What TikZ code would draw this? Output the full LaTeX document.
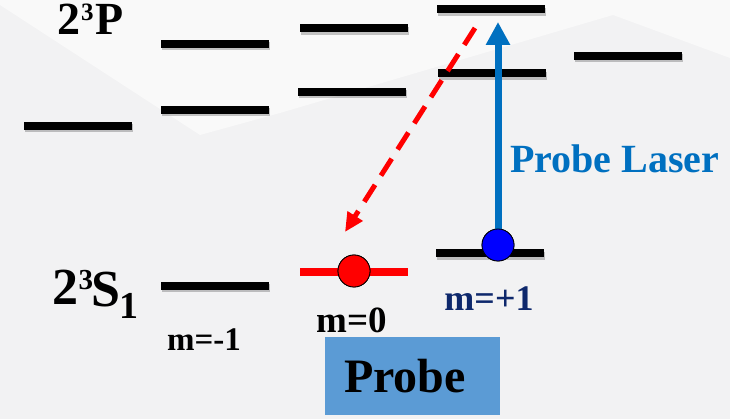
\documentclass[tikz,border=0pt]{standalone}
\usepackage{fontspec}
\setmainfont{Liberation Serif}
\usetikzlibrary{arrows.meta,shadows}
\definecolor{bgA}{RGB}{242,242,243}
\definecolor{bgB}{RGB}{249,249,249}
\definecolor{laser}{RGB}{0,112,192}
\definecolor{navy}{RGB}{14,40,108}
\definecolor{boxblue}{RGB}{91,155,213}
\begin{document}
\begin{tikzpicture}[x=1pt,y=-1pt,
  lvl/.style={fill=black, minimum width=108pt, minimum height=8pt, inner sep=0pt, outer sep=0pt,
    drop shadow={shadow xshift=1pt, shadow yshift=-2.5pt, fill=black, opacity=0.22}},
  redlvl/.style={fill=red, minimum width=108pt, minimum height=8pt, inner sep=0pt, outer sep=0pt},
  dot/.style={circle, draw=black, line width=0.8pt, minimum size=32pt, inner sep=0pt},
  lbl/.style={inner sep=0pt, anchor=base, font=\bfseries},
  lblw/.style={inner sep=0pt, anchor=base west, font=\bfseries}]
\useasboundingbox (0,0) rectangle (730,419);
% background
\fill[bgA] (0,0) rectangle (730,419);
\fill[bgB] (0,5) -- (200,135) -- (280,113) -- (613,15) -- (730,58) -- (730,0) -- (0,0) -- cycle;
% 2^3P levels
\node[lvl] (pa) at (78,126) {};
\node[lvl] (pb1) at (214.5,44) {};
\node[lvl] (pb2) at (214.5,110) {};
\node[lvl] (pc1) at (354,28.5) {};
\node[lvl] (pc2) at (352,92) {};
\node[lvl] (pd1) at (490.5,9.5) {};
\node[lvl] (pd2) at (491.5,73.5) {};
\node[lvl] (pe) at (627.5,56) {};
% 2^3S1 levels
\node[lvl] (sm) at (214.5,286) {};
\node[redlvl] (s0) at (354,272) {};
\node[lvl] (sp) at (490,253.5) {};
% arrows
\coordinate (redstart) at (475,28);
\coordinate (redtip) at (345,232);
\coordinate (bluetip) at (498,22);
\node[dot, fill=blue] (bdot) at (498,245) {};
\node[dot, fill=red] (rdot) at (354,271) {};
\draw[red, line width=5pt, dash pattern=on 20pt off 11pt, -{Triangle[length=19pt,width=17pt]}] (redstart) -- (redtip);
\draw[laser, line width=7pt, -{Triangle[length=23pt,width=23pt]}] (bdot.center) -- (bluetip);
\node[dot, fill=blue] at (bdot) {};
\node[dot, fill=red] at (rdot) {};
% labels 2^3P
\node[lblw, text height=31pt] (tp2) at (57,35) {\fontsize{46}{46}\selectfont 2};
\node[lblw, text height=17pt] (tp3) at (81,21) {\fontsize{25}{25}\selectfont 3};
\node[lblw, text height=31pt] (tpP) at (95.5,35) {\fontsize{46}{46}\selectfont P};
% labels 2^3S1
\node[lblw] (ts2) at (52,305) {\fontsize{52}{52}\selectfont 2};
\node[lblw] (ts3) at (78.5,290) {\fontsize{29}{29}\selectfont 3};
\node[lblw] (tsS) at (91.5,306) {\fontsize{52}{52}\selectfont S};
\node[lblw] (ts1) at (119.5,318) {\fontsize{38}{38}\selectfont 1};
\node[lbl] (tm1) at (204,350) {\fontsize{33}{33}\selectfont m=-1};
\node[lbl] (tm0) at (352,332) {\fontsize{37}{37}\selectfont m=0};
\node[lbl, text=navy] (tp1) at (489,310) {\fontsize{36}{36}\selectfont m=+1};
\node[lblw, text=laser] (tl) at (510,173) {\fontsize{40}{40}\selectfont Probe Laser};
\fill[boxblue] (325,337) rectangle (500,415);
\node[lbl] (tprobe) at (405,392) {\fontsize{48}{48}\selectfont Probe};
\end{tikzpicture}
\end{document}
